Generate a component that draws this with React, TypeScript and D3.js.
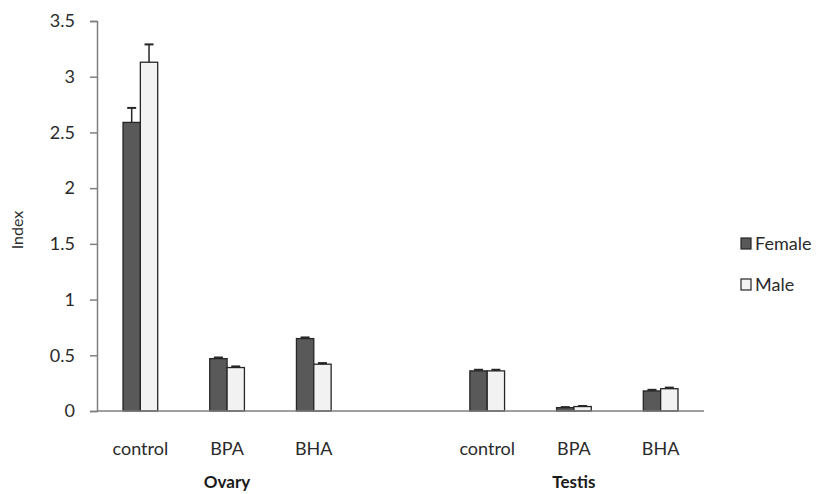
import * as d3 from "d3";
import { useEffect, useRef } from "react";

const categories = ["control", "BPA", "BHA", "", "control", "BPA", "BHA"];
const groups = [
    { name: "Ovary", center: 1 },
    { name: "Testis", center: 5 },
];
const female = [2.59, 0.47, 0.65, null, 0.36, 0.03, 0.18];
const male = [3.13, 0.39, 0.42, null, 0.36, 0.04, 0.2];
const femaleErr = [0.13, 0.01, 0.01, null, 0.01, 0.005, 0.01];
const maleErr = [0.16, 0.01, 0.01, null, 0.01, 0.005, 0.01];
const yTicks = [0, 0.5, 1, 1.5, 2, 2.5, 3, 3.5];
const seriesNames = ["Female", "Male"];
const seriesFill = ["#595959", "#f2f2f2"];

const FONT = "Lato, 'Open Sans', sans-serif";

const App = () => {
    const ref = useRef<SVGSVGElement>(null);

    useEffect(() => {
        const svg = d3.select(ref.current);
        svg.selectAll("*").remove();

        const left = 97, right = 704, top = 21, bottom = 411;

        const x = d3.scaleBand<number>()
            .domain(categories.map((_, i) => i))
            .range([left, right])
            .paddingInner(0);

        const y = d3.scaleLinear().domain([0, 3.5]).range([bottom, top]);

        const barW = x.bandwidth() * 0.2;

        // y axis
        const yAxis = svg.append("g")
            .attr("transform", `translate(${left},0)`)
            .call(d3.axisLeft(y).tickValues(yTicks).tickSize(7).tickPadding(15)
                .tickFormat((d) => d3.format("")(d as number)));
        yAxis.select(".domain").attr("stroke", "#7f7f7f").attr("stroke-width", 1.5);
        yAxis.selectAll(".tick line").attr("stroke", "#7f7f7f").attr("stroke-width", 1.5);
        yAxis.selectAll(".tick text")
            .attr("font-family", FONT).attr("font-size", 18).attr("fill", "#2a2a2a");

        // y title
        svg.append("text")
            .attr("transform", `translate(23,${(top + bottom) / 2 + 14}) rotate(-90)`)
            .attr("text-anchor", "middle")
            .attr("font-family", FONT).attr("font-size", 16).attr("fill", "#2a2a2a")
            .text("Index");

        const rows = categories.map((c, i) => ({
            i, c,
            vals: [female[i], male[i]],
            errs: [femaleErr[i], maleErr[i]],
        }));

        const barG = svg.append("g");
        rows.forEach((r) => {
            const cx = (x(r.i) as number) + x.bandwidth() / 2;
            r.vals.forEach((v, s) => {
                if (v == null) return;
                const bx = cx - barW + s * barW;
                barG.append("rect")
                    .attr("x", bx).attr("y", y(v))
                    .attr("width", barW).attr("height", y(0) - y(v))
                    .attr("fill", seriesFill[s])
                    .attr("stroke", "#262626").attr("stroke-width", 1.3);
                const e = r.errs[s] as number;
                const mx = bx + barW / 2;
                barG.append("line")
                    .attr("x1", mx).attr("x2", mx)
                    .attr("y1", y(v)).attr("y2", y(v + e))
                    .attr("stroke", "#262626").attr("stroke-width", 1.5);
                barG.append("line")
                    .attr("x1", mx - 4.5).attr("x2", mx + 4.5)
                    .attr("y1", y(v + e)).attr("y2", y(v + e))
                    .attr("stroke", "#262626").attr("stroke-width", 2);
            });
        });

        // x axis line
        svg.append("line")
            .attr("x1", left).attr("x2", right)
            .attr("y1", bottom).attr("y2", bottom)
            .attr("stroke", "#7f7f7f").attr("stroke-width", 1.5);

        // category labels
        svg.append("g").selectAll("text")
            .data(rows.filter((r) => r.c !== ""))
            .enter()
            .append("text")
            .attr("x", (r) => (x(r.i) as number) + x.bandwidth() / 2)
            .attr("y", 455)
            .attr("text-anchor", "middle")
            .attr("font-family", FONT).attr("font-size", 18).attr("fill", "#2a2a2a")
            .text((r) => r.c);

        // group labels
        svg.append("g").selectAll("text")
            .data(groups)
            .enter()
            .append("text")
            .attr("x", (g) => (x(g.center) as number) + x.bandwidth() / 2)
            .attr("y", 488)
            .attr("text-anchor", "middle")
            .attr("font-family", FONT).attr("font-size", 17).attr("font-weight", "bold")
            .attr("fill", "#1a1a1a")
            .text((g) => g.name);

        // legend
        const legend = svg.append("g");
        seriesNames.forEach((n, s) => {
            const ly = 244 + s * 41;
            legend.append("rect")
                .attr("x", 741).attr("y", ly - 6)
                .attr("width", 10).attr("height", 11)
                .attr("fill", seriesFill[s])
                .attr("stroke", "#262626").attr("stroke-width", 1.2);
            legend.append("text")
                .attr("x", 755).attr("y", ly + 6)
                .attr("font-family", FONT).attr("font-size", 18).attr("fill", "#2a2a2a")
                .text(n);
        });
    }, []);

    return (
        <svg ref={ref} width="820" height="494"
            style={{ position: "absolute", left: 0, top: 0, background: "#fff" }} />
    );
};

export default App;
